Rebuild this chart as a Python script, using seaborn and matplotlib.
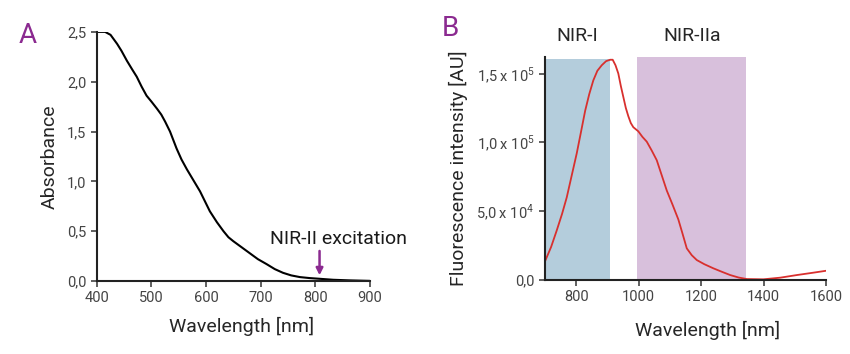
import numpy as np
import pandas as pd
import matplotlib
matplotlib.use("Agg")
import matplotlib.pyplot as plt
import seaborn as sns

# ── data ──
abs_wl = [400, 408, 415, 425, 437, 445, 455, 465, 473, 482, 491, 500, 510,
          518, 525, 534, 546, 555, 565, 577, 589, 598, 607, 620, 632, 641,
          650, 665, 680, 695, 711, 726, 741, 756, 772, 790, 808, 833, 863, 900]
abs_val = [2.50, 2.50, 2.50, 2.47, 2.38, 2.31, 2.21, 2.12, 2.05, 1.95, 1.86,
           1.80, 1.73, 1.67, 1.60, 1.50, 1.33, 1.22, 1.12, 1.01, 0.90, 0.80,
           0.70, 0.59, 0.50, 0.44, 0.40, 0.34, 0.28, 0.22, 0.17, 0.12, 0.083,
           0.057, 0.040, 0.030, 0.023, 0.013, 0.007, 0.002]

fl_wl = [700, 720, 738, 755, 770, 786, 802, 816, 829, 842, 855, 868, 882,
         896, 909, 917, 926, 935, 943, 951, 959, 967, 975, 983, 999, 1012,
         1026, 1042, 1058, 1074, 1090, 1108, 1127, 1140, 1154, 1170, 1186,
         1210, 1239, 1266, 1293, 1320, 1346, 1399, 1453, 1506, 1555, 1602]
fl_val = [1.33e4, 2.4e4, 3.6e4, 4.8e4, 6.0e4, 7.6e4, 9.2e4, 1.08e5, 1.23e5,
          1.35e5, 1.45e5, 1.52e5, 1.56e5, 1.59e5, 1.60e5, 1.60e5, 1.56e5,
          1.50e5, 1.41e5, 1.33e5, 1.25e5, 1.19e5, 1.14e5, 1.11e5, 1.08e5,
          1.04e5, 1.005e5, 9.4e4, 8.7e4, 7.6e4, 6.5e4, 5.5e4, 4.4e4, 3.4e4,
          2.3e4, 1.8e4, 1.45e4, 1.15e4, 8.5e3, 6e3, 3.6e3, 1.8e3, 7e2, 5e2,
          1.7e3, 3.6e3, 5.2e3, 6.8e3]

nir1_band = (700, 907)
nir2a_band = (995, 1345)
excitation_nm = 808

abs_ticks = [0.0, 0.5, 1.0, 1.5, 2.0, 2.5]
abs_ticklabels = ["0,0", "0,5", "1,0", "1,5", "2,0", "2,5"]
fl_ticks = [0, 5e4, 1e5, 1.5e5]
fl_ticklabels = ["0,0", r"5,0 x 10$^4$", r"1,0 x 10$^5$", r"1,5 x 10$^5$"]

purple = "#8b2a90"

sns.set_theme(style="ticks")
plt.rcParams["font.family"] = ["Roboto", "DejaVu Sans"]
plt.rcParams["mathtext.fontset"] = "custom"
plt.rcParams["mathtext.rm"] = "Roboto"

fig = plt.figure(figsize=(8.5, 3.54), dpi=100)
ax_a = fig.add_axes([0.114, 0.206, 0.321, 0.704])
ax_b = fig.add_axes([0.641, 0.209, 0.331, 0.630])

# ── panel A: absorbance ──
df_a = pd.DataFrame({"wl": abs_wl, "A": abs_val})
sns.lineplot(data=df_a, x="wl", y="A", ax=ax_a, color="black", lw=1.5)
ax_a.set_xlim(400, 900)
ax_a.set_ylim(0, 2.5)
ax_a.set_xticks([400, 500, 600, 700, 800, 900])
ax_a.set_yticks(abs_ticks)
ax_a.set_yticklabels(abs_ticklabels)
ax_a.set_xlabel("Wavelength [nm]", fontsize=14, labelpad=8, x=0.53)
ax_a.set_ylabel("Absorbance", fontsize=14, labelpad=6)
ax_a.annotate("", xy=(excitation_nm, 0.03), xytext=(excitation_nm, 0.33),
              arrowprops=dict(arrowstyle="-|>", color=purple, lw=1.8,
                              mutation_scale=10))
ax_a.text(843, 0.42, "NIR-II excitation", ha="center", va="center",
          fontsize=14, color="#1a1a1a")

# ── panel B: fluorescence ──
df_b = pd.DataFrame({"wl": fl_wl, "I": fl_val})
ax_b.axvspan(*nir1_band, ymax=0.99, color="#b4cddc", lw=0, zorder=0)
ax_b.axvspan(*nir2a_band, ymax=1.0, color="#d8c0dc", lw=0, zorder=0)
sns.lineplot(data=df_b, x="wl", y="I", ax=ax_b, color="#d8302e", lw=1.3)
ax_b.set_xlim(700, 1600)
ax_b.set_ylim(0, 1.62e5)
ax_b.set_xticks([800, 1000, 1200, 1400, 1600])
ax_b.set_yticks(fl_ticks)
ax_b.set_yticklabels(fl_ticklabels)
ax_b.set_xlabel("Wavelength [nm]", fontsize=14, labelpad=12, x=0.58)
ax_b.set_ylabel("Fluorescence intensity [AU]", fontsize=14, labelpad=6)
ax_b.text(803, 1.77e5, "NIR-I", ha="center", va="center", fontsize=14)
ax_b.text(1170, 1.77e5, "NIR-IIa", ha="center", va="center", fontsize=14)

for ax in (ax_a, ax_b):
    sns.despine(ax=ax)
    ax.spines["left"].set_linewidth(1.5)
    ax.spines["bottom"].set_linewidth(1.5)
    ax.spines["left"].set_color("#222222")
    ax.spines["bottom"].set_color("#222222")
    ax.tick_params(labelsize=10.5, colors="#444444", width=1.2, length=4,
                   direction="out")

fig.text(0.032, 0.90, "A", fontsize=20, color=purple, ha="center", va="center")
fig.text(0.530, 0.92, "B", fontsize=20, color=purple, ha="center", va="center")

fig.savefig("out.png", dpi=100)
